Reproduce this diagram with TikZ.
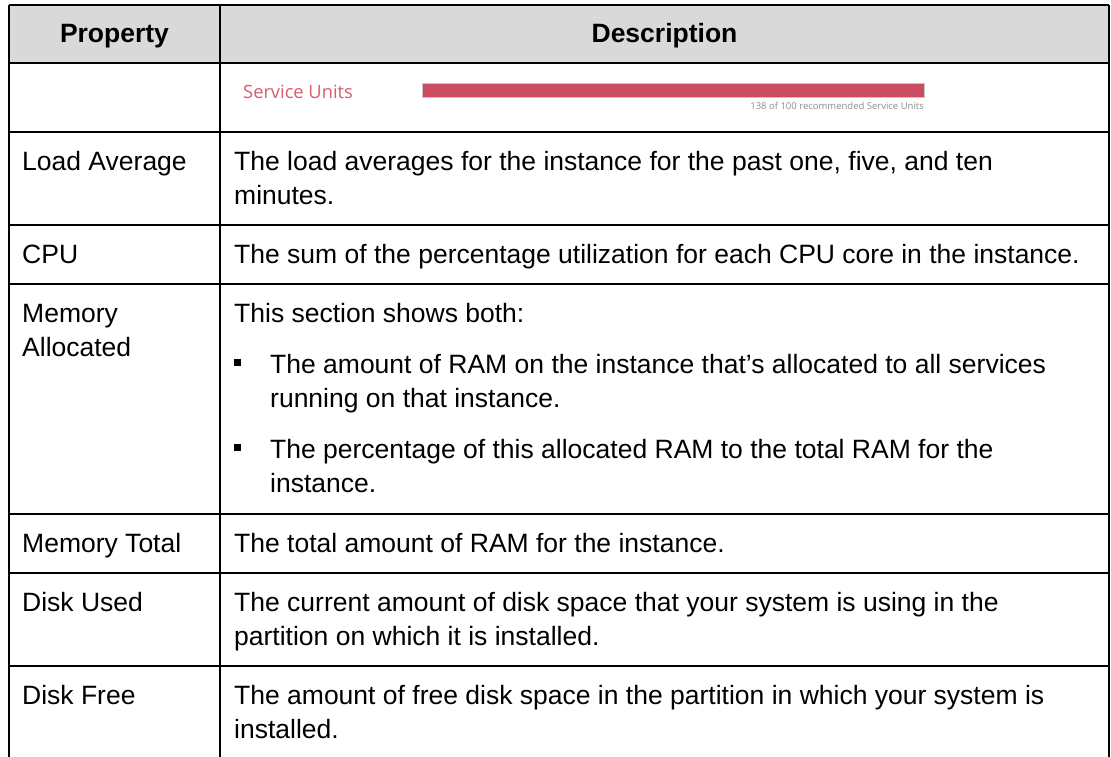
\documentclass[tikz,border=0pt]{standalone}
\usepackage{fontspec}
\setmainfont{Liberation Sans}
\newfontfamily\uifont{Open Sans}
\definecolor{hdrgray}{HTML}{D9D9D9}
\definecolor{surose}{HTML}{CB4B61}
\definecolor{sutext}{HTML}{D95B6C}
\definecolor{notegray}{HTML}{8C8C8C}

\begin{document}
\begin{tikzpicture}[x=1pt,y=-1pt,
    cell/.style={anchor=base west,inner sep=0pt,align=left,font=\fontsize{26.5}{34}\selectfont},
    head/.style={anchor=base,inner sep=0pt,font=\fontsize{26.5}{34}\selectfont\bfseries},
    grid/.style={line width=2.5pt},
    tick/.style={fill=black,inner sep=0pt,minimum size=7pt}]
    \useasboundingbox (0,0) rectangle (1111,757);
    \fill[hdrgray] (9,5) rectangle (1109,63);
    \foreach \y in {5,63,132,225,284,514,573,666} \draw[grid] (9,\y) -- (1109,\y);
    \foreach \x in {9,220,1109} \draw[grid] (\x,5) -- (\x,757);
    \node[head] (hprop) at (114.5,43) {Property};
    \node[head] (hdesc) at (664.5,43) {Description};
    % service units widget
    \node[anchor=base west,inner sep=0pt,font=\uifont\fontsize{18.3}{22}\selectfont,text=sutext] (sulabel) at (243,99) {Service Units};
    \node[anchor=north west,fill=surose,draw=gray!45,line width=0.8pt,inner sep=0pt,minimum width=502pt,minimum height=14pt] (subar) at (422,83) {};
    \node[anchor=base east,inner sep=0pt,font=\uifont\fontsize{9.5}{11}\selectfont,text=notegray] (sunote) at (924,110) {138 of 100 recommended Service Units};
    % property column (two-line cells sit on their last baseline)
    \node[cell] (pla) at (22,170) {Load Average};
    \node[cell] (pcpu) at (22,263) {CPU};
    \node[cell] (pmem) at (22,356) {Memory\\Allocated};
    \node[cell] (pmt) at (22,552) {Memory Total};
    \node[cell] (pdu) at (22,611) {Disk Used};
    \node[cell] (pdf) at (22,704) {Disk Free};
    % description column
    \node[cell] (dla) at (234,204) {The load averages for the instance for the past one, five, and ten\\minutes.};
    \node[cell] (dcpu) at (234,263) {The sum of the percentage utilization for each CPU core in the instance.};
    \node[cell] (dmem) at (234,322) {This section shows both:};
    \node[tick] (b1) at (237.5,362.5) {};
    \node[cell] (dmem1) at (270,407) {The amount of RAM on the instance that's allocated to all services\\running on that instance.};
    \node[tick] (b2) at (237.5,447.5) {};
    \node[cell] (dmem2) at (270,492) {The percentage of this allocated RAM to the total RAM for the\\instance.};
    \node[cell] (dmt) at (234,552) {The total amount of RAM for the instance.};
    \node[cell] (ddu) at (234,645) {The current amount of disk space that your system is using in the\\partition on which it is installed.};
    \node[cell] (ddf) at (234,738) {The amount of free disk space in the partition in which your system is\\installed.};
\end{tikzpicture}
\end{document}
